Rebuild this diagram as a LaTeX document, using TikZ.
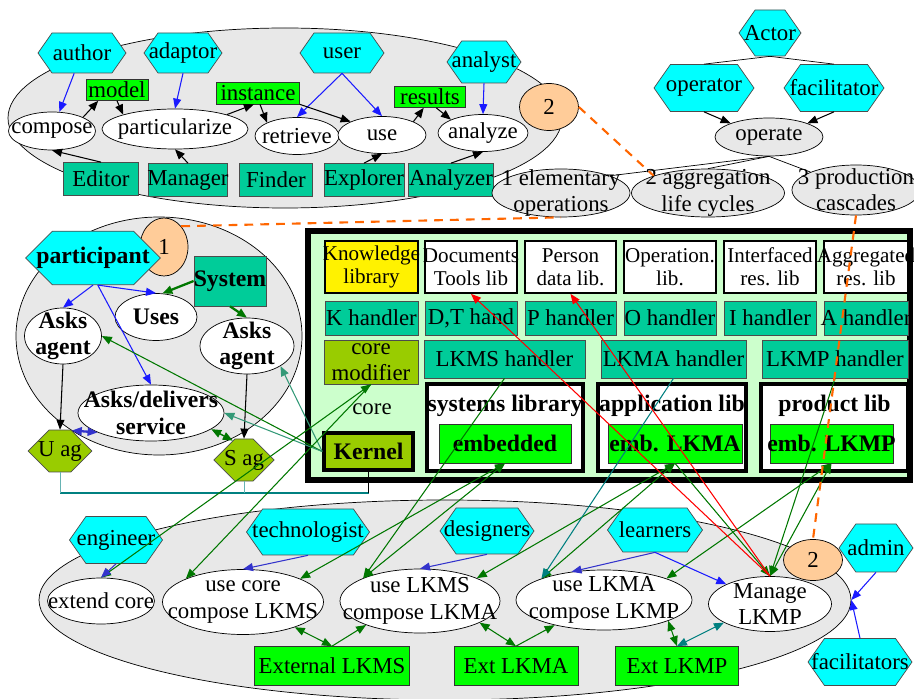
\documentclass[tikz,border=0pt]{standalone}
\usepackage{fontspec}
\setmainfont{Liberation Serif}
\definecolor{tsGray}{HTML}{E8E8E8}
\definecolor{tsCyan}{HTML}{00FFFF}
\definecolor{tsLime}{HTML}{00FF00}
\definecolor{tsTeal}{HTML}{00CC99}
\definecolor{tsOlive}{HTML}{99CC00}
\definecolor{tsPeach}{HTML}{FFCC99}
\definecolor{tsMint}{HTML}{CCFFCC}
\definecolor{tsBlue}{HTML}{1A1AFF}
\definecolor{tsIndigo}{HTML}{3333CC}
\definecolor{tsForest}{HTML}{007700}
\definecolor{tsSea}{HTML}{339977}
\definecolor{tsDeep}{HTML}{008080}
\definecolor{tsRust}{HTML}{FF6600}
\usepackage{tikz}
\usetikzlibrary{arrows.meta,shapes.geometric,shapes.misc,shapes.symbols}
\newcommand\tsfont{\fontsize{13}{15}\selectfont}
\tikzset{
  sz/.style 2 args={minimum width=#1*0.02cm, minimum height=#2*0.02cm},
  grp/.style={ellipse, draw, fill=tsGray, inner sep=0pt},
  hexa/.style={shape=signal, signal to=east and west, signal pointer angle=110,
    draw=black!70, fill=tsCyan, inner xsep=-0.3cm, inner ysep=0pt},
  octo/.style={chamfered rectangle, draw=black!70, inner sep=0pt},
  oval/.style={ellipse, draw, fill=white, inner sep=-0.5cm, align=center},
  graybl/.style={oval, fill=tsGray},
  toolbox/.style={draw=black!70, fill=tsTeal, inner sep=-2pt, align=center},
  dataitem/.style={draw=black!80, fill=tsLime, inner sep=-2pt},
  peach/.style={ellipse, draw, fill=tsPeach, inner sep=0pt},
  libbox/.style={draw, line width=1pt, fill=white, inner sep=-4pt, align=center,
    font=\fontsize{12}{13}\selectfont},
  section/.style={draw, line width=2.3pt, fill=white, inner sep=0pt},
  strong/.style={font=\fontsize{13.5}{15}\selectfont\bfseries},
  arr/.style={-{Triangle[length=2mm,width=1.6mm]}},
  twoway/.style={{Triangle[length=2mm,width=1.6mm]}-{Triangle[length=2mm,width=1.6mm]}},
  flow/.style={arr, line width=0.6pt},
  feed/.style={arr, tsBlue, line width=0.6pt},
  ties/.style={arr, tsForest, line width=1.3pt},
  reach/.style={tsForest, line width=0.6pt},
  rust/.style={tsRust, line width=1.2pt, dash pattern=on 5pt off 4pt}
}

\begin{document}
\begin{tikzpicture}[x=0.02cm, y=-0.02cm, font=\tsfont]
  \useasboundingbox (0,0) rectangle (914,699);

  \node[grp, sz={554}{180}] (grpA) at (285,118) {};
  \node[grp, sz={286}{238}] (grpB) at (159,336) {};
  \node[grp, sz={812}{200}] (grpC) at (445,600) {};

  \node[hexa, sz={88}{40}] (author) at (82,53) {author};
  \node[hexa, sz={78}{40}] (adaptor) at (183,53) {adaptor};
  \node[hexa, sz={84}{40}] (user) at (342,53) {user};
  \node[hexa, sz={74}{42}] (analyst) at (484,62) {analyst};
  \node[dataitem, sz={62}{21}] (model) at (117,90) {model};
  \node[dataitem, sz={83}{22}] (instance) at (258,93) {instance};
  \node[dataitem, sz={71}{21}] (results) at (430,97) {results};
  \node[oval, sz={87}{38}] (compose) at (52,131) {compose};
  \node[oval, sz={146}{40}] (partic) at (175,129) {particularize};
  \node[oval, sz={84}{37}] (retrieve) at (297,136) {retrieve};
  \node[oval, sz={88}{37}] (use) at (382,135) {use};
  \node[oval, sz={90}{37}] (analyze) at (483,133) {analyze};
  \node[toolbox, sz={75}{33}] (editor) at (101,179) {Editor};
  \node[toolbox, sz={79}{33}] (manager) at (188,180) {Manager};
  \node[toolbox, sz={73}{33}] (finder) at (276,180) {Finder};
  \node[toolbox, sz={80}{33}] (explorer) at (364,180) {Explorer};
  \node[toolbox, sz={85}{33}] (analyzer) at (451,180) {Analyzer};
  \node[peach, sz={59}{47}] (stageA) at (549,107) {2};

  \node[hexa, sz={62}{46}] (actor) at (770,33) {Actor};
  \node[hexa, sz={100}{47}] (operator) at (704,88) {operator};
  \node[hexa, sz={100}{47}] (facil) at (834,88) {facilitator};
  \node[graybl, sz={108}{38}] (operate) at (769,137) {operate};
  \node[graybl, sz={138}{48}] (elem) at (561,193) {1 elementary\\operations};
  \node[graybl, sz={153}{48}] (aggr) at (708,193) {2 aggregation\\life cycles};
  \node[graybl, sz={128}{50}] (prod) at (856,190) {3 production\\cascades};

  \node[peach, sz={48}{58}] (stageB) at (164,247) {1};
  \node[octo, fill=tsCyan, strong, sz={108}{51}, chamfered rectangle xsep=0.36cm,
    chamfered rectangle ysep=0.32cm] (particip) at (93,258) {participant};
  \node[toolbox, strong, sz={72}{50}] (system) at (230,281) {System};
  \node[oval, strong, sz={82}{47}] (uses) at (156,317) {Uses};
  \node[oval, strong, sz={77}{56}] (askL) at (63,336) {Asks\\agent};
  \node[oval, strong, sz={94}{56}] (askR) at (247,346) {Asks\\agent};
  \node[oval, strong, sz={146}{56}] (service) at (151,413) {Asks/delivers\\service};
  \node[octo, fill=tsOlive, sz={44}{41}, chamfered rectangle xsep=0.22cm,
    chamfered rectangle ysep=0.22cm] (uag) at (60,451) {U ag};
  \node[octo, fill=tsOlive, sz={42}{42}, chamfered rectangle xsep=0.22cm,
    chamfered rectangle ysep=0.22cm] (sag) at (244,460) {S ag};

  \node[draw, line width=3pt, fill=tsMint, sz={602}{249}] (corebox) at (609,355.5) {};
  \node[libbox, fill=yellow, sz={93}{52}] (klib) at (371.5,267) {Knowledge\\library};
  \node[libbox, sz={92}{52}] (dlib) at (471,267) {Documents\\Tools lib};
  \node[libbox, sz={91}{52}] (plib) at (570.5,267) {Person\\data lib.};
  \node[libbox, sz={92}{52}] (olib) at (670,267) {Operation.\\lib.};
  \node[libbox, sz={92}{52}] (ilib) at (770,267) {Interfaced\\res. lib};
  \node[libbox, sz={84}{52}] (alib) at (866,267) {Aggregated\\res. lib};
  \node[toolbox, sz={93}{34}] (khand) at (371.5,318) {K handler};
  \node[toolbox, sz={92}{34}] (dhand) at (471,318) {D,T hand};
  \node[toolbox, sz={91}{34}] (phand) at (570.5,318) {P handler};
  \node[toolbox, sz={92}{34}] (ohand) at (670,318) {O handler};
  \node[toolbox, sz={92}{34}] (ihand) at (770,318) {I handler};
  \node[toolbox, sz={84}{34}] (ahand) at (866,318) {A handler};
  \node[toolbox, fill=tsOlive, sz={94}{44}] (coremod) at (371,362) {core\\modifier};
  \node[toolbox, sz={161}{38}] (lkmsh) at (504.5,359) {LKMS handler};
  \node[toolbox, sz={145}{38}] (lkmah) at (673.5,359) {LKMA handler};
  \node[toolbox, sz={146}{38}] (lkmph) at (835,359) {LKMP handler};
  \node (corelbl) at (372,409) {core};
  \node[draw, line width=2pt, fill=tsOlive, strong, inner sep=0pt, sz={89}{37}] (kernel) at (368.5,451.5) {Kernel};
  \node[section, sz={156}{87}] (syslib) at (505,427.5) {};
  \node[strong] (systitle) at (505,406) {systems library};
  \node[dataitem, strong, sz={132}{39}] (embedded) at (505,443.5) {embedded};
  \node[section, sz={148}{87}] (applib) at (672,427.5) {};
  \node[strong] (apptitle) at (672,406) {application lib};
  \node[dataitem, strong, sz={134}{39}] (emblkma) at (675,443.5) {emb. LKMA};
  \node[section, sz={147}{87}] (prodlib) at (834.5,427.5) {};
  \node[strong] (prodtitle) at (834.5,406) {product lib};
  \node[dataitem, strong, sz={123}{39}] (emblkmp) at (831.5,443.5) {emb. LKMP};

  \node[hexa, sz={93}{47}] (engineer) at (116,540) {engineer};
  \node[hexa, sz={123}{46}] (technol) at (308,532) {technologist};
  \node[hexa, sz={94}{46}] (designers) at (487,531) {designers};
  \node[hexa, sz={95}{44}] (learners) at (655,530) {learners};
  \node[hexa, sz={74}{48}] (admin) at (876,548) {admin};
  \node[hexa, sz={104}{47}] (facils) at (860,662) {facilitators};
  \node[peach, sz={59}{41}] (stageC) at (813,560) {2};
  \node[oval, sz={107}{46}] (extend) at (101,601) {extend core};
  \node[oval, sz={161}{65}] (usecore) at (243,602) {use core\\compose LKMS};
  \node[oval, sz={160}{64}] (uselkms) at (420,601) {use LKMS\\compose LKMA};
  \node[oval, sz={176}{60}] (uselkma) at (604,600) {use LKMA\\compose LKMP};
  \node[oval, sz={123}{55}] (manage) at (770,604) {Manage\\LKMP};
  \node[dataitem, sz={155}{39}] (extlkms) at (332,666) {External LKMS};
  \node[dataitem, sz={124}{39}] (extlkma) at (516,666) {Ext LKMA};
  \node[dataitem, sz={123}{39}] (extlkmp) at (677,666) {Ext LKMP};

  \draw[feed] (author) -- (compose);
  \draw[feed] (adaptor.south) -- (partic.north);
  \draw[feed] (user.south) -- (retrieve.north);
  \draw[feed] (user.south) -- (use.north);
  \draw[feed] (analyst.south) -- (analyze.north);
  \draw[flow] (compose.north east) -- (model.-150);
  \draw[flow] (model.south) -- (partic.north west);
  \draw[flow] (partic.north east) -- (instance.-110);
  \draw[flow] (instance.-80) -- (retrieve.north west);
  \draw[flow] (instance.south east) -- (use.north west);
  \draw[flow] (use.north east) -- (results.-120);
  \draw[flow] (results.-60) -- (analyze.north west);
  \draw[flow] (editor.north) -- (compose.south);
  \draw[flow] (manager.north) -- (partic.south);
  \draw[flow] (explorer.north) -- (use.south);
  \draw[flow] (analyzer.north) -- (analyze.south);

  \draw (actor.south) -- (operator.north);
  \draw (actor.south) -- (facil.north);
  \draw[flow] (operator.south) -- (operate.north west);
  \draw[flow] (facil.south) -- (operate.north east);
  \draw (operate.south) -- (elem.north east);
  \draw (operate.south) -- (aggr.north);
  \draw (operate.south) -- (prod.north west);

  \draw[feed] (particip.south) -- (askL.north);
  \draw[feed] (particip.-80) -- (uses.north);
  \draw[feed] (particip.-80) -- (service.north);
  \draw[ties] (system.west) -- (uses.75);
  \draw[ties] (system.south) -- (askR.north);
  \draw[flow] (askL.south) -- (uag.north);
  \draw[flow] (askR.south) -- (sag.north);
  \draw[tsIndigo, line width=1.3pt, twoway] (uag.60) -- (service.200);
  \draw[tsForest, line width=0.8pt, twoway] (service.-15) -- (sag.120);
  \draw[reach, arr] (kernel.west) -- (askL.east);
  \draw[tsSea, line width=0.6pt, arr] (kernel.west) -- (askR.south east);
  \draw[tsSea, line width=0.6pt, arr] (kernel.west) -- (service.east);

  \coordinate (bus) at (0,493);
  \draw[tsDeep, line width=0.9pt] (uag.south |- bus) -- (bus -| kernel.south);
  \draw[tsDeep!60] (uag.south) -- (uag.south |- bus);
  \draw[tsDeep!60] (sag.south) -- (sag.south |- bus);
  \draw (kernel.south) -- (kernel.south |- bus);

  \draw[reach, twoway] (extend.north) -- (coremod.south);
  \draw[reach, arr] (coremod.south) -- (usecore.north west);
  \draw[reach, twoway] (embedded.south) -- (usecore.north east);
  \draw[reach, twoway] (embedded.south) -- (uselkms.north west);
  \draw[reach, arr] (lkmsh.south) -- (uselkms.north west);
  \draw[reach, twoway] (emblkma.south) -- (uselkms.north east);
  \draw[reach, twoway] (emblkma.south) -- (uselkma.north west);
  \draw[tsDeep, line width=0.6pt, arr] (lkmah.south) -- (uselkma.north west);
  \draw[reach, arr] (emblkma.south) -- (manage.north);
  \draw[reach, twoway] (emblkmp.south) -- (uselkma.north east);
  \draw[reach, twoway] (emblkmp.south) -- (manage.north);
  \draw[reach, arr] (lkmph.south) -- (manage.north);
  \draw[red, line width=0.6pt, arr] (manage.north) -- (dlib.south);
  \draw[red, line width=0.6pt, arr] (manage.north) -- (plib.south);

  \draw[tsIndigo, line width=0.6pt, arr] (engineer.south) -- (extend.north);
  \draw[tsIndigo, line width=0.6pt, arr] (technol.south) -- (usecore.north);
  \draw[tsIndigo, line width=0.6pt, arr] (designers.south) -- (uselkms.north);
  \draw[tsIndigo, line width=0.6pt, arr] (learners.south) -- (uselkma.139);
  \draw[feed] (learners.south) -- (manage.north west);
  \draw[feed] (admin.south) -- (grpC.east);
  \draw[feed] (facils.north) -- (grpC.east);
  \draw[reach, twoway] (usecore.-26) -- (extlkms.north);
  \draw[reach, arr] (extlkms.north) -- (uselkms.204);
  \draw[reach, twoway] (uselkms.-20) -- (extlkma.north);
  \draw[reach, arr] (extlkma.north) -- (uselkma.207);
  \draw[reach, twoway] (uselkma.-18) -- (extlkmp.north);
  \draw[tsDeep, line width=0.6pt, twoway] (extlkmp.north) -- (manage.202);

  \draw[rust] (stageA.east) -- (aggr.north west);
  \draw[rust] (stageB.north east) -- (elem.south);
  \draw[rust] (prod.south) -- (stageC.north);
\end{tikzpicture}
\end{document}
